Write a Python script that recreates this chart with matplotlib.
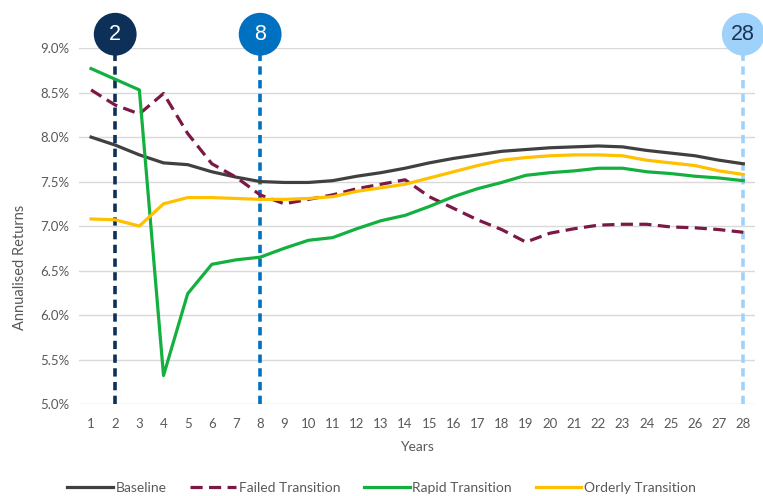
import numpy as np
import matplotlib.pyplot as plt
import matplotlib.transforms as mtransforms

plt.rcParams['font.family'] = ['Lato', 'DejaVu Sans']

#------------------------------------
# Data
#------------------------------------

years = list(range(1, 29))

baseline = [8.00, 7.91, 7.80, 7.71, 7.69, 7.61, 7.55, 7.50, 7.49, 7.49,
            7.51, 7.56, 7.60, 7.65, 7.71, 7.76, 7.80, 7.84, 7.86, 7.88,
            7.89, 7.90, 7.89, 7.85, 7.82, 7.79, 7.74, 7.70]
failed = [8.53, 8.36, 8.26, 8.49, 8.04, 7.70, 7.55, 7.35, 7.25, 7.30,
          7.35, 7.42, 7.47, 7.52, 7.33, 7.20, 7.07, 6.96, 6.82, 6.92,
          6.97, 7.01, 7.02, 7.02, 6.99, 6.98, 6.96, 6.93]
rapid = [8.77, 8.65, 8.53, 5.32, 6.24, 6.57, 6.62, 6.65, 6.75, 6.84,
         6.87, 6.97, 7.06, 7.12, 7.22, 7.33, 7.42, 7.49, 7.57, 7.60,
         7.62, 7.65, 7.65, 7.61, 7.59, 7.56, 7.54, 7.51]
orderly = [7.08, 7.07, 7.00, 7.25, 7.32, 7.32, 7.31, 7.30, 7.30, 7.31,
           7.33, 7.39, 7.43, 7.47, 7.54, 7.61, 7.68, 7.74, 7.77, 7.79,
           7.80, 7.80, 7.79, 7.74, 7.71, 7.68, 7.62, 7.58]

# highlighted horizons
horizons = [2, 8, 28]
horizon_colors = ['#0c3058', '#0070c0', '#9fd2fb']
horizon_text = ['white', 'white', '#1c3455']

yticks = [5.0, 5.5, 6.0, 6.5, 7.0, 7.5, 8.0, 8.5, 9.0]

#------------------------------------
# Plot
#------------------------------------

fig = plt.figure(figsize=(7.63, 4.96), dpi=100)
ax = fig.add_axes([0.1035, 0.1855, 0.8865, 0.7175])

grey = '#595959'

# dashed vertical markers, x in data, y in axes fraction
vtrans = mtransforms.blended_transform_factory(ax.transData, ax.transAxes)
for x, c in zip(horizons, horizon_colors):
    ax.plot([x, x], [0.0, 0.98], color=c, lw=2.6, ls=(0, (2.3, 1.5)),
            transform=vtrans, zorder=1, clip_on=False)

ax.plot(years, baseline, color='#404040', lw=2.3, label='Baseline', zorder=3)
ax.plot(years, failed, color='#7a1846', lw=2.3, ls=(0, (3.8, 2.0)),
        label='Failed Transition', zorder=3)
ax.plot(years, rapid, color='#14b03f', lw=2.3, label='Rapid Transition', zorder=3)
ax.plot(years, orderly, color='#ffc000', lw=2.3, label='Orderly Transition', zorder=3)

# numbered circles above the dashed lines (10 pt above the top gridline)
circ_trans = vtrans + mtransforms.ScaledTranslation(0, 10 / 72, fig.dpi_scale_trans)
for x, c, tc in zip(horizons, horizon_colors, horizon_text):
    ax.scatter([x], [1.0], s=950, color=c, edgecolors='none',
               transform=circ_trans, clip_on=False, zorder=5)
    ax.text(x, 1.0, str(x), transform=circ_trans, ha='center', va='center',
            fontsize=15.5, color=tc, zorder=6, family=['Liberation Sans', 'DejaVu Sans'])

ax.set_xlim(0.5, 28.5)
ax.set_ylim(5.0, 9.0)
ax.set_xticks(years)
ax.set_yticks(yticks)
ax.set_yticklabels(['%.1f%%' % v for v in yticks])
ax.tick_params(length=0, labelsize=9.5, colors=grey, pad=7)
ax.tick_params(axis='x', pad=10)
ax.grid(axis='y', color='#d9d9d9', lw=1.0)
ax.set_axisbelow(True)
for s in ax.spines.values():
    s.set_visible(False)

ax.set_xlabel('Years', fontsize=10, color=grey, labelpad=8)
ax.set_ylabel('Annualised Returns', fontsize=10.5, color=grey)
ax.yaxis.set_label_coords(-0.077, 0.385)

fig.legend(loc='center', bbox_to_anchor=(0.5, 1 - 488 / 496), ncol=4,
           frameon=False, fontsize=10, labelcolor=grey, handlelength=3.3,
           handletextpad=0.2, columnspacing=1.7)

fig.savefig('out.png', dpi=100)
